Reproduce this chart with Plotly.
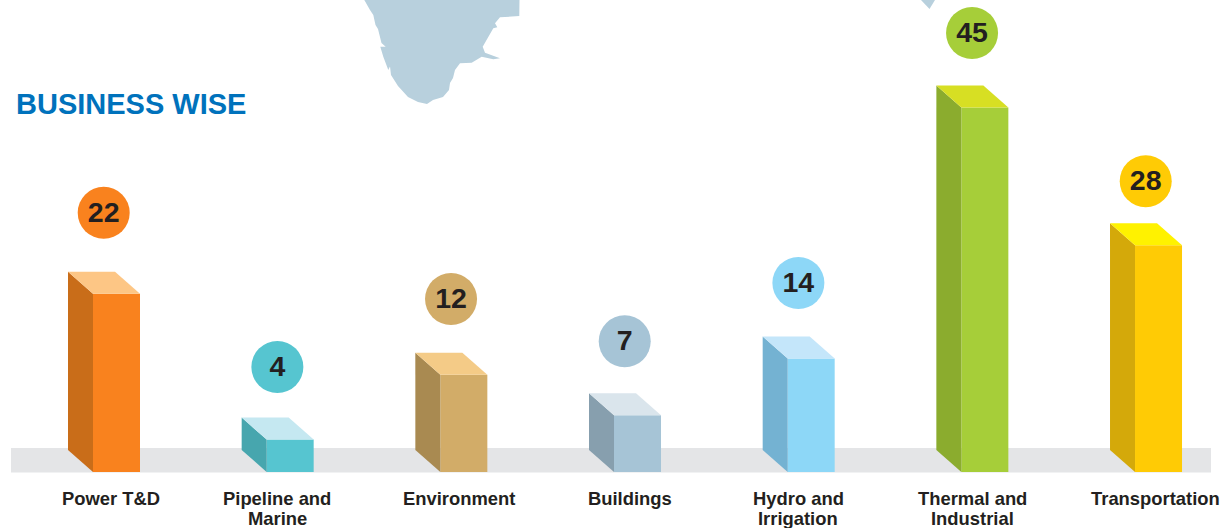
import plotly.graph_objects as go

# Data
category_lines = [["Power T&D"], ["Pipeline and", "Marine"], ["Environment"], ["Buildings"],
                  ["Hydro and", "Irrigation"], ["Thermal and", "Industrial"], ["Transportation"]]
values = [22, 4, 12, 7, 14, 45, 28]

# Styles
front_colors = ["#F9821E", "#56C5D0", "#D2AC68", "#A6C4D6", "#8DD7F7", "#A6CE39", "#FFCB05"]
side_colors = ["#C96D19", "#47A6AE", "#A98A51", "#879FAE", "#74B2D2", "#8BAC2E", "#D4A90A"]
top_colors = ["#FDC685", "#C5E8F1", "#F4CB87", "#DAE5EC", "#C4E6FA", "#D7DF23", "#FFF200"]
badge_colors = ["#F9821E", "#56C5D0", "#D2AC68", "#A6C4D6", "#8DD7F7", "#A6CE39", "#FFCB05"]
badge_gap_px = [81, 72.6, 75.8, 74, 75.6, 74.5, 64]
label_x_px = [110.5, 277, 458.5, 630, 798, 972, 1155.5]
label_y_px = [498.4, 518.6]

W, H = 1231, 528
BASE_PX = 472.0
PX_PER_VALUE = 8.1
FIRST_CENTER_PX = 116.5
STEP_PX = 173.67
BAR_W_PX = 47.0
DX_PX, DY_PX = 25.0, 22.0
BADGE_SHIFT_PX = 12.8
BADGE_TEXT_DROP_PX = 1.8

x0 = -FIRST_CENTER_PX / STEP_PX
x1 = (W - FIRST_CENTER_PX) / STEP_PX
y_top = BASE_PX / PX_PER_VALUE
y_bot = (BASE_PX - H) / PX_PER_VALUE
dx = DX_PX / STEP_PX
dy = DY_PX / PX_PER_VALUE
bw = BAR_W_PX / STEP_PX

fig = go.Figure()
idx = list(range(len(values)))

# side and top faces
for i, v in enumerate(values):
    l, r = i - bw / 2, i + bw / 2
    fig.add_trace(go.Scatter(
        x=[l, l, l - dx, l - dx, l], y=[0, v, v + dy, dy, 0],
        mode="lines", line=dict(width=0), fill="toself", fillcolor=side_colors[i],
        hoverinfo="skip", showlegend=False))
    fig.add_trace(go.Scatter(
        x=[l, r, r - dx, l - dx, l], y=[v, v, v + dy, v + dy, v],
        mode="lines", line=dict(width=0), fill="toself", fillcolor=top_colors[i],
        hoverinfo="skip", showlegend=False))

# front faces
fig.add_trace(go.Bar(x=idx, y=values, width=bw, marker=dict(color=front_colors, line=dict(width=0)),
                     showlegend=False))

# value badges
badge_x = [i - BADGE_SHIFT_PX / STEP_PX for i in idx]
badge_y = [v + g / PX_PER_VALUE for v, g in zip(values, badge_gap_px)]
fig.add_trace(go.Scatter(
    x=badge_x, y=badge_y, mode="markers",
    marker=dict(size=52, color=badge_colors, line=dict(width=0)),
    showlegend=False, hoverinfo="skip", cliponaxis=False))
fig.add_trace(go.Scatter(
    x=badge_x, y=[b - BADGE_TEXT_DROP_PX / PX_PER_VALUE for b in badge_y], mode="text",
    text=[str(v) for v in values], textposition="middle center",
    textfont=dict(family="Liberation Sans", size=28.5, color="#231F20", weight="bold"),
    showlegend=False, hoverinfo="skip", cliponaxis=False))


def px(xp, yp):
    return xp / W, 1 - yp / H


def path(points):
    out = []
    for k, (a, b) in enumerate(points):
        u, w = px(a, b)
        out.append(("M" if k == 0 else "L") + f"{u:.5f},{w:.5f}")
    return " ".join(out) + " Z"


# decorative map fragments, traced in image pixels
map_main = [(364.3, 0), (370, 10), (373.3, 15), (375.5, 25), (378, 29), (381.5, 43), (385.7, 46.7),
            (380.3, 46.7), (383.3, 56.7), (388.3, 70), (390, 66.5), (391, 75), (398, 86),
            (408, 97), (418, 102), (427, 104), (433, 100), (443, 97), (449, 90), (450, 83),
            (453, 78), (455, 70), (460, 63.3), (471.7, 62.7), (481.7, 56.7), (493.3, 59.3),
            (500, 58.3), (485, 52.7), (482.7, 46.7), (493.3, 28.3), (497.3, 27.3), (495, 23.3),
            (500, 17.3), (519.3, 16), (519.5, 0)]
map_tip = [(921, 0), (935, 0), (929.5, 9)]

shapes = [
    dict(type="rect", xref="paper", yref="paper", x0=11 / W, x1=1211 / W, y0=1 - 472.5 / H, y1=1 - 448 / H,
         fillcolor="#E4E5E7", line=dict(width=0), layer="below"),
    dict(type="path", xref="paper", yref="paper", path=path(map_main), fillcolor="#B8D0DD",
         line=dict(width=0), layer="below"),
    dict(type="path", xref="paper", yref="paper", path=path(map_tip), fillcolor="#B8D0DD",
         line=dict(width=0), layer="below"),
]

annotations = []
for lines, xp in zip(category_lines, label_x_px):
    for line, yp in zip(lines, label_y_px):
        annotations.append(dict(
            text=line, xref="paper", yref="paper", x=xp / W, y=1 - yp / H,
            xanchor="center", yanchor="middle", showarrow=False, align="center",
            font=dict(family="Liberation Sans", size=18.4, color="#231F20", weight="bold")))
annotations.append(dict(
    text="BUSINESS WISE", xref="paper", yref="paper", x=16 / W, y=1 - 104 / H,
    xanchor="left", yanchor="middle", showarrow=False,
    font=dict(family="Liberation Sans", size=29, color="#0072BC", weight="bold"),
    xshift=-2))

fig.update_layout(
    width=W, height=H, margin=dict(l=0, r=0, t=0, b=0),
    paper_bgcolor="#FFFFFF", plot_bgcolor="rgba(0,0,0,0)",
    xaxis=dict(range=[x0, x1], visible=False, fixedrange=True),
    yaxis=dict(range=[y_bot, y_top], visible=False, fixedrange=True),
    shapes=shapes, annotations=annotations, showlegend=False, hovermode=False,
)
fig.write_html("out.html", config=dict(displayModeBar=False),
               default_width=f"{W}px", default_height=f"{H}px",
               post_script="document.body.style.margin='0';document.documentElement.style.overflow='hidden';")
